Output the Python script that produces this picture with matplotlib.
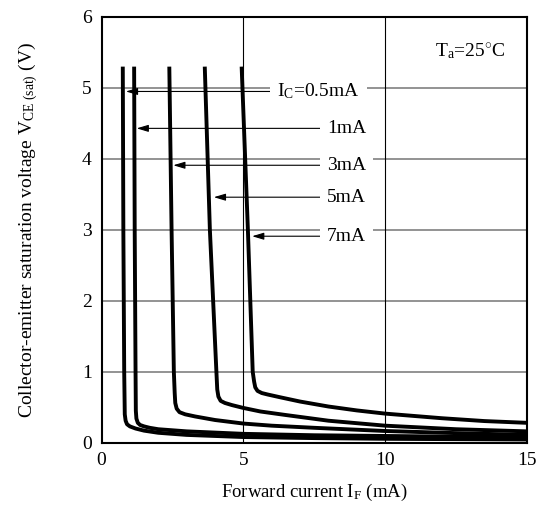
import matplotlib
matplotlib.use("Agg")
import matplotlib.pyplot as plt

plt.rcParams['font.family'] = ['Liberation Serif', 'DejaVu Serif']
plt.rcParams['mathtext.fontset'] = 'custom'
plt.rcParams['mathtext.rm'] = 'Liberation Serif'
plt.rcParams['mathtext.it'] = 'Liberation Serif:italic'

# Curves: IF (mA) vs VCE(sat) (V) for each IC
ic_labels = [r'I$_{\rm C}$=0.5mA', '1mA', '3mA', '5mA', '7mA']

x_05 = [0.75, 0.77, 0.80, 0.82, 0.85, 0.90, 1.00, 1.20, 1.50, 2.0, 3.0, 5.0, 7.5, 10, 12.5, 15]
y_05 = [5.3, 3.0, 1.0, 0.40, 0.31, 0.26, 0.23, 0.20, 0.17, 0.14, 0.11, 0.08, 0.065, 0.055, 0.05, 0.045]

x_1 = [1.15, 1.17, 1.20, 1.21, 1.23, 1.28, 1.36, 1.50, 1.70, 2.0, 3.0, 5.0, 7.5, 10, 12.5, 15]
y_1 = [5.3, 3.0, 1.0, 0.45, 0.34, 0.28, 0.25, 0.23, 0.21, 0.19, 0.16, 0.125, 0.105, 0.095, 0.085, 0.08]

x_3 = [2.39, 2.47, 2.55, 2.58, 2.60, 2.65, 2.75, 2.95, 3.3, 4.0, 5.0, 6.0, 7.5, 10, 12.5, 15]
y_3 = [5.3, 3.0, 1.0, 0.70, 0.56, 0.48, 0.43, 0.40, 0.37, 0.32, 0.27, 0.24, 0.21, 0.165, 0.135, 0.11]

x_5 = [3.64, 3.82, 4.05, 4.08, 4.12, 4.20, 4.35, 4.60, 5.0, 5.6, 6.5, 8.0, 10, 12.5, 15]
y_5 = [5.3, 3.0, 1.0, 0.75, 0.65, 0.59, 0.56, 0.53, 0.49, 0.44, 0.39, 0.31, 0.24, 0.19, 0.16]

x_7 = [4.94, 5.16, 5.33, 5.38, 5.42, 5.50, 5.65, 5.85, 6.3, 7.0, 8.0, 9.0, 10, 12, 13.5, 15]
y_7 = [5.3, 3.0, 1.0, 0.86, 0.78, 0.73, 0.70, 0.68, 0.64, 0.58, 0.51, 0.455, 0.41, 0.345, 0.305, 0.28]

curves_x = [x_05, x_1, x_3, x_5, x_7]
curves_y = [y_05, y_1, y_3, y_5, y_7]

# annotation arrow targets (on curves) and label anchors
arrow_tip_x = [0.86, 1.24, 2.53, 3.96, 5.31]
arrow_y = [4.95, 4.43, 3.91, 3.46, 2.91]
label_x = [6.19, 7.95, 7.95, 7.95, 7.95]

x_ticks = [0, 5, 10, 15]
y_ticks = [0, 1, 2, 3, 4, 5, 6]

fig = plt.figure(figsize=(5.44, 5.14), dpi=100)
ax = fig.add_axes([0.1866, 0.1387, 0.7822, 0.8283])
ax.set_xlim(0, 15)
ax.set_ylim(0, 6)

for yv in [1, 2, 3, 4, 5]:
    ax.axhline(yv, color='#808080', lw=1.2, zorder=1)
for xv in [5, 10]:
    ax.axvline(xv, color='black', lw=0.8, zorder=1)

for xs, ys in zip(curves_x, curves_y):
    ax.plot(xs, ys, color='black', lw=2.8, solid_joinstyle='round',
            solid_capstyle='butt', zorder=3, clip_on=True)

for lab, tx, ay, lx in zip(ic_labels, arrow_tip_x, arrow_y, label_x):
    ax.annotate(lab, xy=(tx, ay), xytext=(lx, ay), fontsize=14,
                ha='left', va='center', zorder=4,
                bbox=dict(boxstyle='square,pad=0.35', fc='white', ec='none'),
                arrowprops=dict(arrowstyle='-|>,head_length=0.5,head_width=0.15',
                                color='black', lw=0.8, shrinkA=0, shrinkB=0))

ax.text(11.74, 5.52, r'T$_{\rm a}$=25$^{\circ}$C', fontsize=14,
        ha='left', va='center', zorder=4,
        bbox=dict(boxstyle='square,pad=0.2', fc='white', ec='none'))

ax.set_xticks(x_ticks)
ax.set_yticks(y_ticks)
ax.tick_params(length=0, labelsize=14, pad=7)
for s in ax.spines.values():
    s.set_linewidth(1.5)
    s.set_zorder(5)

ax.set_xlabel(r'Forward current I$_{\rm F}$ (mA)', fontsize=13.5, labelpad=9)
ax.set_ylabel(r'Collector-emitter saturation voltage V$_{\rm CE\ (sat)}$ (V)',
              fontsize=14, labelpad=30)

fig.savefig('out.png', dpi=100)
